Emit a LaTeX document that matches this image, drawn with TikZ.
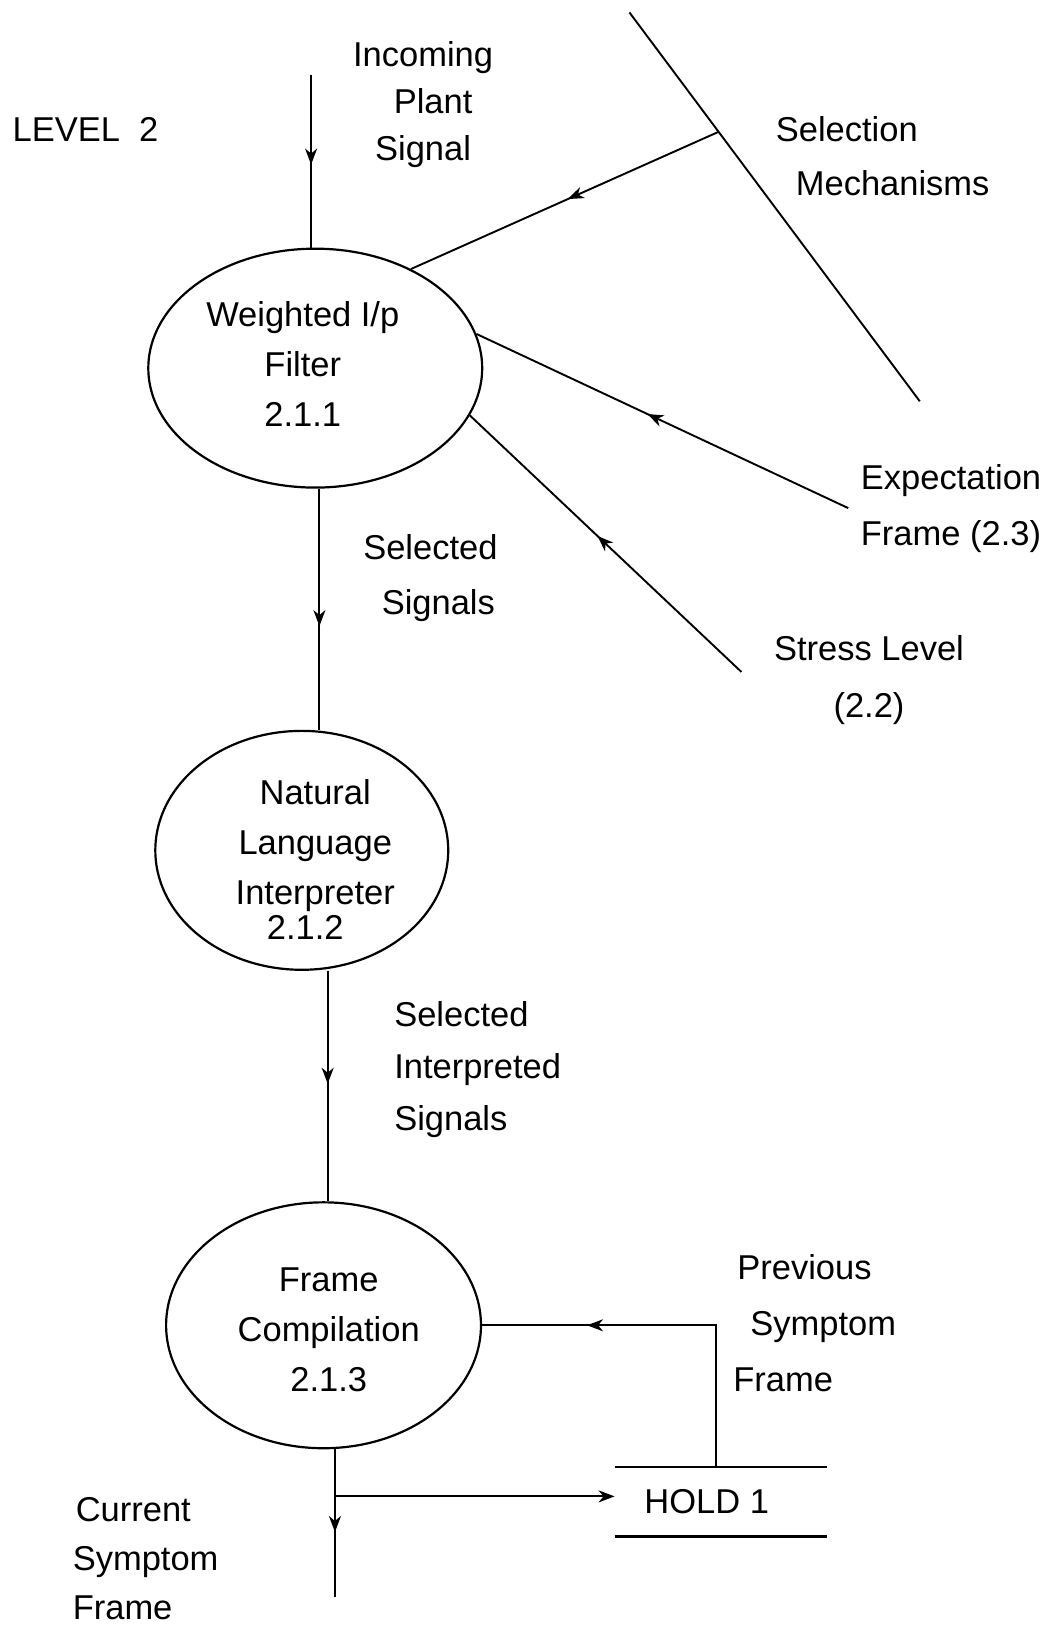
\documentclass[tikz,border=0pt]{standalone}
\usepackage{fontspec}
\setmainfont{Liberation Sans}
\usetikzlibrary{arrows.meta,decorations.markings,shapes.geometric,calc}
\begin{document}
\begin{tikzpicture}[x=1.0374pt,y=-1.0374pt,
  every node/.style={font=\fontsize{34.5}{50}\selectfont},
  proc/.style={draw, ellipse, line width=2.2pt, inner sep=0pt},
  lbl/.style={inner sep=0pt, align=center},
  lbll/.style={inner sep=0pt, align=left, anchor=west},
  conn/.style={line width=1.9pt},
  midarrow/.style={conn, postaction={decorate},
    decoration={markings, mark=at position #1 with {\arrow{Stealth[length=16pt,width=12pt,inset=5pt]}}}},
]
\useasboundingbox (0,0) rectangle (1015,1568);

% processes
\node[proc, minimum width=334pt, minimum height=239pt] (p1) at (304,355) {};
\node[proc, minimum width=293pt, minimum height=239pt] (p2) at (291,820) {};
\node[proc, minimum width=315pt, minimum height=246pt] (p3) at (312,1278) {};

% process texts
\node[lbl] (p1t) at (292,351) {Weighted I/p\\Filter\\2.1.1};
\node[lbl] (p2t) at (304,829) {Natural\\Language\\Interpreter\\[-15pt]\hspace*{-20pt}2.1.2};
\node[lbl] (p3t) at (317,1282) {Frame\\Compilation\\2.1.3};

% data store
\node[inner sep=0pt, minimum width=212pt, minimum height=69.5pt] (hold) at (695,1448) {HOLD 1\hspace*{28pt}};
\draw[line width=2.2pt] (hold.north west) -- (hold.north east);
\draw[line width=2.2pt] (hold.south west) -- (hold.south east);

% selection mechanisms boundary
\coordinate (dtop) at (607,12);
\coordinate (dbot) at (887,387);
\draw[conn] (dtop) -- (dbot);
\coordinate (selj) at ($(dtop)!0.307!(dbot)$);

% free ends of the flows
\coordinate (inc) at (300,72);
\coordinate (expc) at (818,490);
\coordinate (strc) at (715,648);
\coordinate (x1) at (308,0);
\coordinate (x2) at (316,0);
\coordinate (cur) at (323,1540);
\coordinate (j) at (323,1443);
\coordinate (fb) at ($(hold.north west)!0.476!(hold.north east)$);

% flows
\draw[midarrow=0.52] (inc) -- (inc |- p1.north);
\draw[midarrow=0.49] (selj) -- (p1.46);
\draw[midarrow=0.54] (expc) -- (p1.12);
\draw[midarrow=0.53] (strc) -- (p1.343);
\draw[midarrow=0.57] (p1.south -| x1) -- (p2.north -| x1);
\draw[midarrow=0.49] (p2.south -| x2) -- (p3.north -| x2);
\draw[midarrow=0.72] (fb) |- (p3);
\draw[midarrow=0.56] (p3.south -| cur) -- (cur);
\draw[conn, -{Stealth[length=16pt,width=12pt,inset=5pt]}] (j) -- (j -| hold.west);

% labels
\node[lbll] (lev) at (12,125) {LEVEL\ \ 2};
\node[lbl, font=\fontsize{34.5}{47}\selectfont] (incl) at (408,101) {Incoming\\\hspace*{20pt}Plant\\Signal};
\node[lbll, font=\fontsize{34.5}{54}\selectfont] (sell) at (748,151) {Selection\\\hspace*{20pt}Mechanisms};
\node[lbll, font=\fontsize{34.5}{56}\selectfont] (expl) at (830,490) {Expectation\\Frame (2.3)};
\node[lbl, font=\fontsize{34.5}{57}\selectfont] (strl) at (838,656) {Stress Level\\(2.2)};
\node[lbl, font=\fontsize{34.5}{55}\selectfont] (ss1) at (415,557) {Selected\\\hspace*{16pt}Signals};
\node[lbll, font=\fontsize{34.5}{52}\selectfont] (sis) at (380,1031) {Selected\\Interpreted\\Signals};
\node[lbll, font=\fontsize{34.5}{56}\selectfont] (psf) at (707,1276) {\hspace*{4pt}Previous\\\hspace*{17pt}Symptom\\Frame};
\node[lbll, font=\fontsize{34.5}{49}\selectfont] (csf) at (70,1503) {\hspace*{3pt}Current\\Symptom\\Frame};
\end{tikzpicture}
\end{document}
